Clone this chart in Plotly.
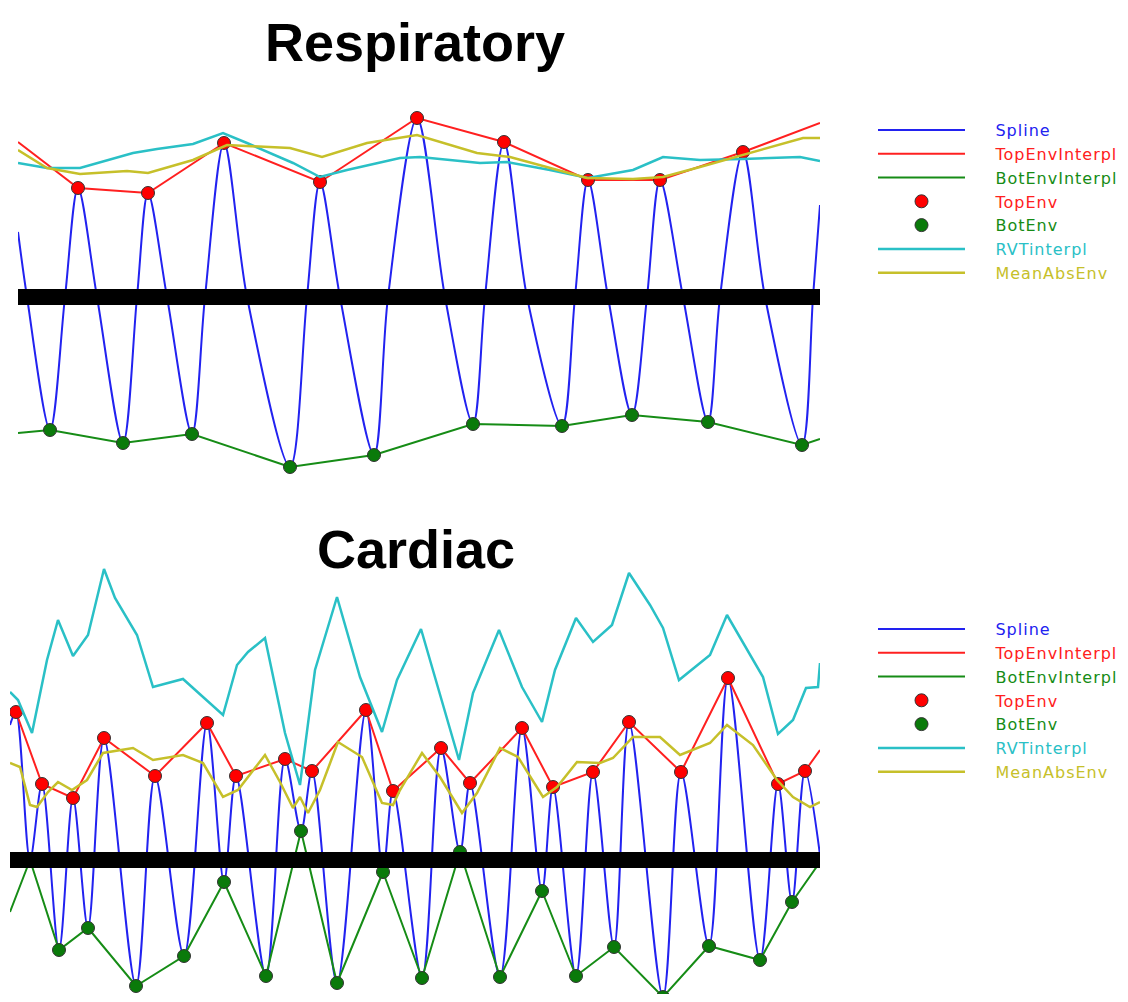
import plotly.graph_objects as go

# page body has an 8px margin; figure sized to fill the rest of the window
OFF = 8
W, H = 1128 - 2 * OFF, 1002 - 2 * OFF

# ---------------- Respiratory data (time in samples, amplitude in a.u.) ----------------
resp_spline_t = [18, 27, 50, 65, 78, 97, 123, 137, 148, 167, 192, 205, 224, 247, 290, 307, 320, 340,
                 374, 388, 417, 445, 473, 485, 504, 527, 562, 575, 588, 608, 632, 647, 660, 683, 708,
                 720, 743, 765, 802, 813, 820]
resp_spline_v = [65, 0, -133, 0, 109, 0, -146, 0, 104, 0, -137, 0, 154, 0, -170, 0, 115, 0,
                 -158, 0, 179, 0, -127, 0, 155, 0, -129, 0, 117, 0, -118, 0, 117, 0, -125,
                 0, 145, 0, -148, 0, 92]

resp_top_t = [78, 148, 224, 320, 417, 504, 588, 660, 743]
resp_top_v = [109, 104, 154, 115, 179, 155, 117, 117, 145]
resp_topi_t = [18] + resp_top_t + [820]
resp_topi_v = [155] + resp_top_v + [174]

resp_bot_t = [50, 123, 192, 290, 374, 473, 562, 632, 708, 802]
resp_bot_v = [-133, -146, -137, -170, -158, -127, -129, -118, -125, -148]
resp_boti_t = [18] + resp_bot_t + [820]
resp_boti_v = [-136] + resp_bot_v + [-142]

resp_rvt_t = [18, 47, 80, 133, 157, 193, 223, 247, 293, 320, 347, 400, 420, 480, 507, 550, 588,
              633, 663, 700, 743, 800, 820]
resp_rvt_v = [134, 129, 129, 144, 148, 153, 164, 154, 134, 120, 127, 139, 140, 134, 135, 127, 119,
              127, 140, 137, 138, 140, 136]

resp_mae_t = [18, 47, 80, 127, 148, 193, 227, 290, 322, 367, 417, 433, 477, 510, 550, 587, 633,
              663, 700, 743, 803, 820]
resp_mae_v = [147, 129, 123, 126, 124, 137, 152, 149, 140, 154, 162, 157, 144, 140, 129, 119, 118,
              120, 130, 142, 159, 159]

# ---------------- Cardiac data ----------------
card_spline_t = [10, 16, 30, 42, 59, 73, 88, 104, 136, 155, 184, 207, 224, 236, 266, 285, 301, 312,
                 337, 366, 383, 393, 422, 441, 460, 470, 500, 522, 542, 553, 576, 593, 614, 629,
                 663, 681, 709, 728, 760, 778, 792, 805, 820]
card_spline_v = [135, 148, 0, 76, -90, 62, -68, 122, -126, 84, -96, 137, -22, 84, -116, 101, 29, 89,
                 -123, 150, -12, 69, -118, 112, 8, 77, -117, 132, -31, 73, -116, 88, -87, 138,
                 -137, 88, -86, 182, -100, 76, -42, 89, 5]

card_top_t = [16, 42, 73, 104, 155, 207, 236, 285, 312, 366, 393, 441, 470, 522, 553, 593, 629,
              681, 728, 778, 805]
card_top_v = [148, 76, 62, 122, 84, 137, 84, 101, 89, 150, 69, 112, 77, 132, 73, 88, 138,
              88, 182, 76, 89]
card_topi_t = card_top_t + [820]
card_topi_v = card_top_v + [110]

card_bot_t = [30, 59, 88, 136, 184, 224, 266, 301, 337, 383, 422, 460, 500, 542, 576, 614, 663,
              709, 760, 792]
card_bot_v = [0, -90, -68, -126, -96, -22, -116, 29, -123, -12, -118, 8, -117, -31, -116, -87, -137,
              -86, -100, -42]
card_boti_t = [10] + card_bot_t + [820]
card_boti_v = [-52] + card_bot_v + [-2]

card_rvt_t = [10, 18, 32, 47, 58, 73, 88, 104, 115, 137, 153, 183, 223, 237, 248, 265, 285, 300,
              315, 337, 360, 382, 397, 421, 459, 473, 499, 522, 542, 555, 576, 593, 612, 629, 650,
              663, 679, 710, 727, 763, 778, 793, 806, 818, 820]
card_rvt_v = [168, 160, 127, 200, 240, 204, 225, 291, 262, 225, 173, 181, 145, 195, 208, 222, 127, 75,
              190, 263, 183, 128, 180, 231, 100, 167, 230, 173, 138, 190, 242, 218, 235, 287, 255,
              232, 180, 205, 245, 183, 126, 140, 172, 173, 197]

card_mae_t = [10, 20, 30, 37, 48, 58, 72, 87, 103, 133, 153, 183, 203, 223, 238, 265, 280, 293, 300,
              308, 320, 338, 362, 382, 393, 400, 422, 440, 462, 477, 500, 518, 543, 557, 577, 600,
              613, 633, 660, 680, 710, 727, 753, 777, 793, 810, 820]
card_mae_v = [97, 93, 55, 53, 68, 78, 70, 80, 107, 112, 100, 105, 97, 63, 70, 105, 78, 52, 63,
              47, 70, 118, 103, 57, 55, 70, 107, 83, 47, 67, 112, 103, 63, 73, 98, 97,
              102, 123, 123, 105, 117, 135, 115, 80, 63, 53, 58]

legend_names = ["Spline", "TopEnvInterpl", "BotEnvInterpl", "TopEnv", "BotEnv", "RVTinterpl", "MeanAbsEnv"]

C_BLUE = "#2222f0"
C_RED = "#ff2020"
C_GREEN = "#168c16"
C_CYAN = "#2ac0c6"
C_YELLOW = "#c6c02a"

fig = go.Figure()


def px2fx(p):
    return (p - OFF) / W


def px2fy(p):
    return 1 - (p - OFF) / H


GAP = "\u00a0" * 5


def add_panel(xa, ya, leg, sp_t, sp_v, ti_t, ti_v, bi_t, bi_v, t_t, t_v, b_t, b_v, r_t, r_v, m_t, m_v, x0, x1):
    def nm(txt, col):
        return f"{GAP}<span style='color:{col};letter-spacing:1px'>{txt}</span>"
    common = dict(xaxis=xa, yaxis=ya, legend=leg, hoverinfo="skip")
    fig.add_trace(go.Scatter(x=sp_t, y=sp_v, mode="lines", name=nm(legend_names[0], C_BLUE),
                             line=dict(color=C_BLUE, width=2, shape="spline", smoothing=0.9), **common))
    fig.add_trace(go.Scatter(x=ti_t, y=ti_v, mode="lines", name=nm(legend_names[1], C_RED),
                             line=dict(color=C_RED, width=2), **common))
    fig.add_trace(go.Scatter(x=bi_t, y=bi_v, mode="lines", name=nm(legend_names[2], C_GREEN),
                             line=dict(color=C_GREEN, width=2), **common))
    fig.add_trace(go.Scatter(x=t_t, y=t_v, mode="markers", name=nm(legend_names[3], C_RED),
                             marker=dict(color="#ff0000", size=13, line=dict(color="#333333", width=1)), **common))
    fig.add_trace(go.Scatter(x=b_t, y=b_v, mode="markers", name=nm(legend_names[4], C_GREEN),
                             marker=dict(color="#0a7a0a", size=13, line=dict(color="#333333", width=1)), **common))
    fig.add_trace(go.Scatter(x=r_t, y=r_v, mode="lines", name=nm(legend_names[5], C_CYAN),
                             line=dict(color=C_CYAN, width=2.5), **common))
    fig.add_trace(go.Scatter(x=m_t, y=m_v, mode="lines", name=nm(legend_names[6], C_YELLOW),
                             line=dict(color=C_YELLOW, width=2.5), **common))
    fig.add_trace(go.Scatter(x=[x0, x1], y=[0, 0], mode="lines", showlegend=False,
                             line=dict(color="black", width=16), xaxis=xa, yaxis=ya, hoverinfo="skip"))


add_panel("x", "y", "legend", resp_spline_t, resp_spline_v, resp_topi_t, resp_topi_v, resp_boti_t, resp_boti_v,
          resp_top_t, resp_top_v, resp_bot_t, resp_bot_v, resp_rvt_t, resp_rvt_v, resp_mae_t, resp_mae_v, 18, 820)
add_panel("x2", "y2", "legend2", card_spline_t, card_spline_v, card_topi_t, card_topi_v, card_boti_t, card_boti_v,
          card_top_t, card_top_v, card_bot_t, card_bot_v, card_rvt_t, card_rvt_v, card_mae_t, card_mae_v, 10, 820)

ax_common = dict(visible=False, showgrid=False, zeroline=False, fixedrange=True)

leg_common = dict(xanchor="left", yanchor="top", font=dict(family="DejaVu Sans", size=16),
                  itemwidth=87, bgcolor="rgba(0,0,0,0)", traceorder="normal", tracegroupgap=0)

# cardiac panel bottom sits at the bottom edge of the figure
card_bottom_px = OFF + H

fig.update_layout(
    width=W, height=H,
    margin=dict(l=0, r=0, t=0, b=0, autoexpand=False),
    paper_bgcolor="white", plot_bgcolor="white",
    xaxis=dict(domain=[px2fx(18), px2fx(820)], range=[18, 820], anchor="y", **ax_common),
    yaxis=dict(domain=[px2fy(480), px2fy(100)], range=[-183, 197], anchor="x", **ax_common),
    xaxis2=dict(domain=[px2fx(10), px2fx(820)], range=[10, 820], anchor="y2", **ax_common),
    yaxis2=dict(domain=[0, px2fy(560)], range=[860 - card_bottom_px, 300], anchor="x2", **ax_common),
    legend=dict(x=px2fx(873), y=px2fy(113), **leg_common),
    legend2=dict(x=px2fx(873), y=px2fy(612), **leg_common),
    showlegend=True,
    annotations=[
        dict(text="Respiratory", x=px2fx(415), y=px2fy(42), xref="paper", yref="paper",
             xanchor="center", yanchor="middle", showarrow=False,
             font=dict(family="Liberation Sans", size=54, weight="bold", color="black")),
        dict(text="Cardiac", x=px2fx(416), y=px2fy(549), xref="paper", yref="paper",
             xanchor="center", yanchor="middle", showarrow=False,
             font=dict(family="Liberation Sans", size=54, weight="bold", color="black")),
    ],
)

fig.write_html("out.html")
